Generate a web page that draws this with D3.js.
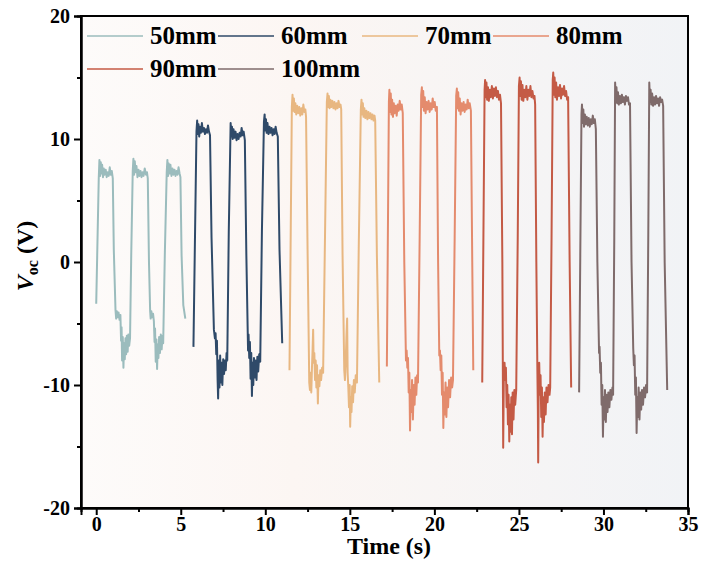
<!DOCTYPE html>
<html>
<head>
<meta charset="utf-8">
<script src="https://cdn.jsdelivr.net/npm/d3@7"></script>
<style>
  body { margin: 0; background: #fff; }
  svg { display: block; }
  text { font-family: "Liberation Serif", "Times New Roman", Times, "DejaVu Serif", serif; font-weight: bold; fill: #000; }
</style>
</head>
<body>
<svg id="chart" width="702" height="586"></svg>
<script>
// legend labels, in draw order
const labels = ['50mm', '60mm', '70mm', '80mm', '90mm', '100mm'];

const xTicks = [0, 5, 10, 15, 20, 25, 30, 35];
const xMinor = [2.5, 7.5, 12.5, 17.5, 22.5, 27.5, 32.5];
const yTicks = [-20, -10, 0, 10, 20];
const yMinor = [-15, -5, 5, 15];

// [time (s), Voc (V)]
const s50 = [
  [0.00,-3.4],[0.15,6.8],[0.19,8.3],[0.23,7.0],[0.27,8.1],[0.31,7.2],[0.35,7.9],[0.40,6.9],[0.45,7.6],[0.50,7.1],[0.56,7.5],[0.62,6.9],[0.68,7.3],[0.74,7.0],[0.80,7.7],[0.86,7.1],[0.92,7.4],[0.98,6.8],
  [1.04,1.0],[1.14,-3.9],[1.18,-4.6],[1.22,-4.0],[1.27,-4.5],[1.32,-4.1],[1.38,-4.7],[1.43,-4.3],
  [1.47,-6.4],[1.50,-5.3],[1.53,-8.0],[1.57,-6.1],[1.61,-8.6],[1.65,-6.6],[1.69,-7.9],[1.73,-6.2],[1.77,-7.5],[1.81,-6.0],[1.86,-7.3],[1.90,-5.9],[1.95,-6.8],[2.00,-6.2],
  [2.07,0.5],[2.16,7.4],[2.20,8.4],[2.24,7.1],[2.28,8.2],[2.33,7.3],[2.38,7.8],[2.44,6.9],[2.50,7.5],[2.56,7.0],[2.62,7.4],[2.68,6.9],[2.74,7.3],[2.80,7.0],[2.87,7.6],[2.94,7.1],[3.00,7.3],[3.05,6.8],
  [3.12,0.0],[3.19,-4.0],[3.22,-4.6],[3.26,-4.0],[3.31,-4.5],[3.36,-4.2],[3.41,-4.8],
  [3.45,-6.5],[3.48,-5.4],[3.52,-8.1],[3.56,-6.3],[3.60,-8.7],[3.64,-6.7],[3.68,-7.8],[3.72,-6.1],[3.77,-7.4],[3.82,-5.9],[3.87,-7.1],[3.92,-6.0],[3.96,-6.6],
  [4.06,0.8],[4.17,7.3],[4.21,8.3],[4.25,7.0],[4.29,8.0],[4.34,7.2],[4.39,7.9],[4.45,7.0],[4.51,7.6],[4.57,7.1],[4.63,7.5],[4.69,7.0],[4.75,7.4],[4.81,7.1],[4.87,7.7],[4.93,7.2],[4.98,6.9],
  [5.05,0.5],[5.15,-3.5],[5.27,-4.6]
];

const s60 = [
  [5.75,-6.9],[5.93,10.6],[5.97,11.5],[6.01,10.4],[6.05,11.2],[6.09,10.2],[6.14,11.0],[6.19,10.5],[6.25,11.3],[6.31,10.6],[6.37,10.9],[6.43,10.4],[6.49,10.8],[6.55,10.5],[6.61,11.1],[6.67,10.6],[6.73,10.3],
  [6.82,2.0],[6.96,-5.5],[7.02,-6.2],[7.06,-5.8],[7.10,-7.5],[7.14,-6.4],[7.18,-9.6],[7.21,-11.1],[7.25,-8.0],[7.29,-10.2],[7.33,-7.6],[7.37,-9.8],[7.41,-8.2],[7.46,-10.0],[7.51,-7.9],[7.56,-9.1],[7.61,-8.0],[7.66,-8.8],[7.71,-7.4],[7.75,-8.0],
  [7.84,2.5],[7.95,11.3],[7.99,10.2],[8.03,11.0],[8.07,10.0],[8.12,10.8],[8.18,10.1],[8.24,10.6],[8.30,9.9],[8.36,10.4],[8.42,10.0],[8.48,10.5],[8.54,10.2],[8.60,10.9],[8.66,10.3],[8.72,10.6],[8.79,9.9],
  [8.88,0.5],[8.98,-7.2],[9.01,-5.9],[9.05,-7.8],[9.09,-6.5],[9.13,-9.5],[9.17,-7.4],[9.21,-10.9],[9.25,-8.2],[9.29,-10.0],[9.33,-7.8],[9.38,-9.4],[9.43,-8.0],[9.48,-9.6],[9.53,-7.7],[9.58,-8.9],[9.64,-7.5],[9.70,-8.1],
  [9.80,2.5],[9.92,11.4],[9.96,12.0],[10.00,10.7],[10.04,11.6],[10.08,10.5],[10.13,11.3],[10.19,10.4],[10.25,11.0],[10.31,10.5],[10.37,10.9],[10.43,10.3],[10.49,10.8],[10.55,10.4],[10.61,11.0],[10.67,10.5],[10.74,10.2],
  [10.84,1.0],[11.00,-6.6]
];

const s70 = [
  [11.43,-8.8],[11.57,12.6],[11.61,13.6],[11.65,12.3],[11.69,13.3],[11.73,12.2],[11.78,12.9],[11.83,12.0],[11.89,12.7],[11.95,12.1],[12.01,12.6],[12.07,11.9],[12.13,12.5],[12.19,12.0],[12.25,12.8],[12.31,12.2],[12.37,12.4],[12.41,11.8],
  [12.50,1.0],[12.60,-9.8],[12.64,-10.4],[12.68,-9.0],[12.72,-10.6],[12.76,-8.6],[12.80,-7.0],[12.83,-5.5],[12.86,-8.2],[12.90,-7.4],[12.94,-9.6],[12.98,-8.0],[13.02,-10.2],[13.06,-8.4],[13.11,-11.5],[13.15,-9.2],[13.20,-10.1],[13.25,-8.8],[13.30,-9.6],[13.36,-8.6],[13.42,-9.0],
  [13.53,2.0],[13.64,13.0],[13.68,13.7],[13.72,12.6],[13.76,13.5],[13.80,12.5],[13.85,13.2],[13.91,12.6],[13.97,13.1],[14.03,12.5],[14.09,13.0],[14.15,12.4],[14.21,12.9],[14.27,12.5],[14.33,13.1],[14.39,12.6],[14.45,12.8],[14.49,12.4],
  [14.57,0.5],[14.67,-8.8],[14.71,-9.6],[14.75,-8.4],[14.80,-6.0],[14.84,-4.6],[14.87,-9.0],[14.91,-10.2],[14.95,-11.8],[14.99,-10.0],[15.02,-13.4],[15.06,-11.0],[15.10,-12.2],[15.14,-10.1],[15.19,-11.4],[15.24,-9.6],[15.29,-10.6],[15.35,-9.2],[15.42,-9.8],
  [15.53,1.5],[15.65,12.4],[15.69,13.2],[15.73,12.0],[15.77,12.9],[15.81,11.8],[15.86,12.5],[15.92,11.7],[15.98,12.3],[16.04,11.6],[16.10,12.2],[16.16,11.7],[16.22,12.1],[16.28,11.6],[16.34,12.0],[16.40,11.5],[16.46,11.9],[16.50,11.5],
  [16.60,0.5],[16.74,-9.8]
];

const s80 = [
  [17.19,-8.5],[17.31,13.0],[17.34,14.0],[17.38,12.2],[17.42,13.7],[17.46,12.0],[17.50,13.2],[17.55,11.8],[17.60,12.9],[17.65,12.1],[17.71,12.7],[17.77,11.9],[17.83,12.8],[17.89,12.3],[17.95,13.1],[18.01,12.4],[18.07,12.8],[18.13,12.1],
  [18.22,0.0],[18.32,-8.0],[18.36,-7.2],[18.40,-8.6],[18.44,-7.8],[18.48,-10.6],[18.52,-9.0],[18.56,-13.7],[18.60,-10.4],[18.64,-12.2],[18.68,-9.6],[18.73,-12.8],[18.78,-10.0],[18.83,-11.6],[18.88,-9.4],[18.93,-10.8],[18.98,-9.2],[19.03,-9.8],
  [19.13,2.0],[19.22,13.6],[19.26,14.2],[19.30,12.6],[19.34,13.9],[19.38,12.3],[19.43,13.4],[19.48,12.1],[19.54,13.0],[19.60,12.4],[19.66,13.1],[19.72,12.2],[19.78,12.9],[19.84,12.4],[19.90,13.3],[19.96,12.6],[20.02,13.0],[20.08,12.3],[20.15,12.6],
  [20.22,0.0],[20.29,-7.6],[20.33,-7.2],[20.37,-8.8],[20.41,-7.6],[20.45,-10.8],[20.49,-9.0],[20.53,-13.5],[20.57,-10.6],[20.61,-12.4],[20.66,-9.8],[20.71,-12.6],[20.76,-10.2],[20.81,-11.8],[20.87,-9.6],[20.93,-11.0],[20.99,-9.4],[21.05,-10.2],[21.10,-9.6],
  [21.20,2.0],[21.29,13.5],[21.33,14.1],[21.37,12.5],[21.41,13.8],[21.45,12.3],[21.50,13.3],[21.55,12.0],[21.61,12.9],[21.67,12.3],[21.73,13.0],[21.79,12.2],[21.85,12.8],[21.91,12.4],[21.97,13.2],[22.03,12.5],[22.09,12.9],[22.16,12.3],
  [22.24,0.0],[22.30,-8.8]
];

const s90 = [
  [22.83,-9.8],[22.97,14.0],[23.00,14.8],[23.04,13.4],[23.08,14.6],[23.12,13.2],[23.17,14.2],[23.22,13.1],[23.28,14.0],[23.34,13.4],[23.40,14.3],[23.46,13.3],[23.52,14.1],[23.58,13.5],[23.64,14.2],[23.70,13.4],[23.76,13.9],[23.82,13.2],[23.88,13.6],[23.94,12.9],
  [24.02,0.0],[24.07,-15.1],[24.11,-9.0],[24.15,-8.2],[24.19,-9.6],[24.23,-8.6],[24.27,-11.8],[24.31,-10.0],[24.35,-13.2],[24.39,-10.8],[24.43,-14.6],[24.47,-11.6],[24.51,-13.8],[24.55,-11.0],[24.59,-14.0],[24.63,-10.6],[24.68,-12.8],[24.73,-10.4],[24.78,-11.6],[24.84,-10.4],
  [24.93,2.0],[25.00,14.3],[25.04,15.0],[25.08,13.5],[25.12,14.7],[25.16,13.2],[25.21,14.4],[25.26,13.1],[25.32,14.0],[25.38,13.4],[25.44,14.3],[25.50,13.2],[25.56,14.0],[25.62,13.5],[25.68,14.3],[25.74,13.4],[25.80,13.9],[25.86,13.3],[25.92,13.5],[25.96,12.8],
  [26.03,0.0],[26.09,-8.6],[26.12,-12.0],[26.14,-16.3],[26.17,-10.0],[26.20,-8.2],[26.24,-10.8],[26.28,-9.2],[26.32,-12.6],[26.36,-10.2],[26.40,-14.2],[26.44,-11.0],[26.48,-13.0],[26.53,-10.6],[26.58,-12.4],[26.63,-10.2],[26.69,-11.4],[26.75,-10.0],[26.81,-10.8],[26.85,-10.2],
  [26.93,2.0],[27.00,14.8],[27.03,15.4],[27.07,13.6],[27.11,15.0],[27.15,13.4],[27.20,14.6],[27.25,13.2],[27.31,14.2],[27.37,13.5],[27.43,14.4],[27.49,13.3],[27.55,14.1],[27.61,13.6],[27.67,14.3],[27.73,13.5],[27.79,13.9],[27.85,13.2],[27.91,13.4],
  [28.00,0.0],[28.09,-10.2]
];

const s100 = [
  [28.56,-10.6],[28.70,12.0],[28.73,12.8],[28.77,11.3],[28.81,12.4],[28.85,11.0],[28.90,12.0],[28.95,11.2],[29.01,11.8],[29.07,11.1],[29.13,11.7],[29.19,11.0],[29.25,11.6],[29.31,11.2],[29.37,11.9],[29.43,11.3],[29.49,11.6],[29.55,10.8],
  [29.64,0.0],[29.74,-7.4],[29.77,-6.9],[29.81,-9.0],[29.85,-8.2],[29.89,-11.6],[29.93,-10.0],[29.97,-14.2],[30.01,-11.0],[30.05,-12.8],[30.09,-10.4],[30.14,-13.0],[30.19,-10.8],[30.24,-12.2],[30.29,-10.6],[30.35,-11.8],[30.41,-10.4],[30.47,-11.2],[30.53,-10.2],[30.57,-10.8],
  [30.64,2.0],[30.69,14.6],[30.73,13.0],[30.77,14.2],[30.81,12.9],[30.86,13.8],[30.91,12.8],[30.97,13.5],[31.03,12.9],[31.09,13.6],[31.15,13.0],[31.21,13.4],[31.27,12.8],[31.33,13.5],[31.39,13.1],[31.45,13.4],[31.51,12.8],[31.57,12.9],
  [31.66,0.0],[31.76,-7.0],[31.80,-8.4],[31.84,-7.6],[31.88,-10.8],[31.92,-9.4],[31.96,-13.9],[32.00,-11.0],[32.04,-12.6],[32.08,-10.2],[32.13,-12.8],[32.18,-10.6],[32.23,-12.0],[32.28,-10.4],[32.34,-11.6],[32.40,-10.2],[32.46,-11.0],[32.52,-10.0],[32.58,-10.6],
  [32.65,2.0],[32.71,14.6],[32.75,13.0],[32.79,14.0],[32.83,12.8],[32.88,13.7],[32.93,12.7],[32.99,13.4],[33.05,12.8],[33.11,13.5],[33.17,12.9],[33.23,13.3],[33.29,12.7],[33.35,13.4],[33.41,13.0],[33.47,13.2],[33.53,12.7],
  [33.62,0.0],[33.77,-10.4]
];

const seriesData = [s50, s60, s70, s80, s90, s100];
const colors = ['#9bbcbd', '#2f4a69', '#e8b781', '#e48b6d', '#c45a45', '#7f6b6b'];

const FONT = '"Liberation Serif", "Times New Roman", Times, "DejaVu Serif", serif';

const svg = d3.select('#chart');
const plot = { left: 81, right: 688, top: 16, bottom: 508 };

const x = d3.scaleLinear().domain([-0.9, 35]).range([plot.left, plot.right]);
const y = d3.scaleLinear().domain([-20, 20]).range([plot.bottom, plot.top]);

// soft background of the plot area
const grad = svg.append('defs').append('linearGradient')
  .attr('id', 'bg').attr('x1', 0).attr('x2', 1).attr('y1', 0).attr('y2', 0);
grad.append('stop').attr('offset', '0%').attr('stop-color', '#fdfbfa');
grad.append('stop').attr('offset', '35%').attr('stop-color', '#fcf6f3');
grad.append('stop').attr('offset', '100%').attr('stop-color', '#f1f3f6');

svg.append('rect')
  .attr('x', plot.left).attr('y', plot.top)
  .attr('width', plot.right - plot.left).attr('height', plot.bottom - plot.top)
  .attr('fill', 'url(#bg)');

// traces
const line = d3.line().x(d => x(d[0])).y(d => y(d[1]));
seriesData.forEach((s, i) => {
  svg.append('path')
    .datum(s)
    .attr('d', line)
    .attr('fill', 'none')
    .attr('stroke', colors[i])
    .attr('stroke-width', 2)
    .attr('stroke-linejoin', 'round');
});

// frame
svg.append('rect')
  .attr('x', plot.left).attr('y', plot.top)
  .attr('width', plot.right - plot.left).attr('height', plot.bottom - plot.top)
  .attr('fill', 'none').attr('stroke', '#000').attr('stroke-width', 2);

// axes (plain hyphen for negatives, like the original)
const fmt = d => String(d);
svg.append('g')
  .attr('transform', `translate(0,${plot.bottom})`)
  .call(d3.axisBottom(x).tickValues(xTicks).tickSize(7).tickPadding(2).tickFormat(fmt));
svg.append('g')
  .attr('transform', `translate(0,${plot.bottom})`)
  .call(d3.axisBottom(x).tickValues(xMinor).tickSize(4).tickFormat(''));

svg.append('g')
  .attr('transform', `translate(${plot.left},0)`)
  .call(d3.axisLeft(y).tickValues(yTicks).tickSize(7).tickPadding(4).tickFormat(fmt));
svg.append('g')
  .attr('transform', `translate(${plot.left},0)`)
  .call(d3.axisLeft(y).tickValues(yMinor).tickSize(4).tickFormat(''));

svg.selectAll('.domain').attr('stroke', '#000').attr('stroke-width', 2);
svg.selectAll('.tick line').attr('stroke', '#000').attr('stroke-width', 2);
svg.selectAll('g').attr('font-family', FONT);
svg.selectAll('.tick text')
  .attr('fill', '#000')
  .style('font-family', FONT)
  .style('font-weight', 'bold')
  .style('font-size', '20px');

// axis titles
svg.append('text')
  .attr('x', 389).attr('y', 554)
  .attr('text-anchor', 'middle')
  .style('font-family', FONT)
  .style('font-size', '24px')
  .text('Time (s)');

const yt = svg.append('text')
  .attr('transform', 'translate(33,256) rotate(-90)')
  .attr('text-anchor', 'middle')
  .style('font-family', FONT)
  .style('font-size', '24px');
yt.append('tspan').style('font-style', 'italic').text('V');
yt.append('tspan').attr('dy', 5).style('font-size', '16px').text('oc');
yt.append('tspan').attr('dy', -5).text(' (V)');

// legend, two rows
const legCols = [87, 218, 362, 493];
const legRows = [36, 69];
labels.forEach((lab, i) => {
  const cx = legCols[i % 4];
  const cy = legRows[Math.floor(i / 4)];
  svg.append('line')
    .attr('x1', cx).attr('x2', cx + 56)
    .attr('y1', cy).attr('y2', cy)
    .attr('stroke', colors[i]).attr('stroke-width', 1.3);
  svg.append('text')
    .attr('x', cx + 63).attr('y', cy + 8)
    .style('font-family', FONT)
    .style('font-size', '25px')
    .text(lab);
});
</script>
</body>
</html>
